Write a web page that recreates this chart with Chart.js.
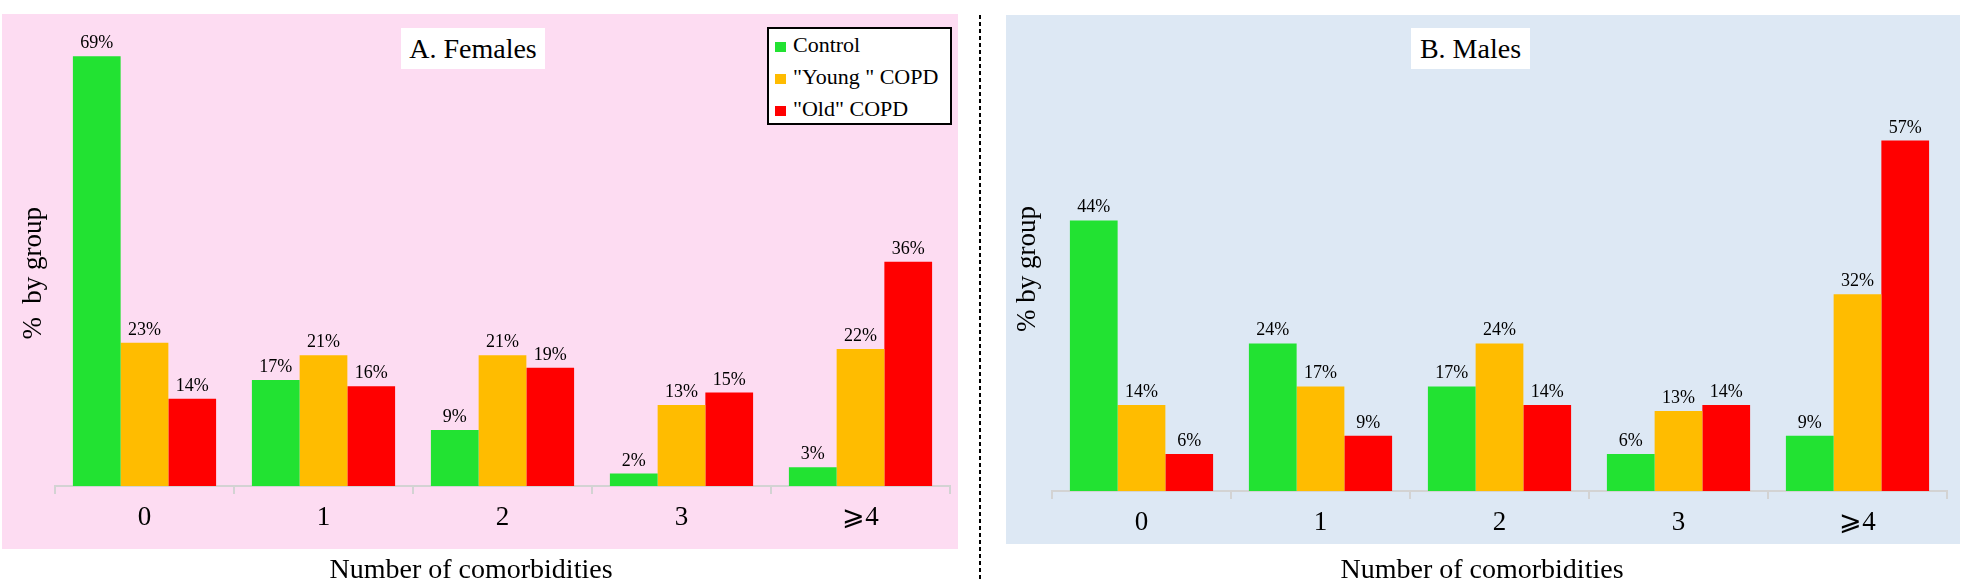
<!DOCTYPE html>
<html>
<head>
<meta charset="utf-8">
<script src="https://cdn.jsdelivr.net/npm/chart.js"></script>
<style>
  body { margin: 0; width: 1968px; height: 580px; background: #fff; position: relative; overflow: hidden; font-family: 'Liberation Serif', 'Times New Roman', serif; }
  .bg { position: absolute; }
  #bgF { left: 2px; top: 14px; width: 956px; height: 535px; background: #fddcf2; }
  #bgM { left: 1006px; top: 15px; width: 954px; height: 529px; background: #dde8f4; }
  .wrap { position: absolute; top: 0; width: 984px; height: 580px; }
  .title { position: absolute; top: 28px; height: 41px; line-height: 41px; background: #fff; font-size: 28px; text-align: center; }
  #sep { position: absolute; left: 979px; top: 15px; width: 2px; height: 565px; background: repeating-linear-gradient(to bottom, #000 0 4px, transparent 4px 7px); }
  #legend { position: absolute; left: 767px; top: 27px; width: 181px; height: 94px; border: 2px solid #000; background: #fff; font-size: 22px; }
  #legend div { position: absolute; left: 6px; height: 24px; line-height: 24px; white-space: nowrap; }
  #legend span { display: inline-block; width: 11px; height: 10px; margin-right: 7px; }
</style>
</head>
<body>
<div class="bg" id="bgF"></div>
<div class="bg" id="bgM"></div>
<div id="sep"></div>

<div class="wrap" style="left:0"><canvas id="chartF" width="984" height="580"></canvas></div>
<div class="wrap" style="left:984px"><canvas id="chartM" width="984" height="580"></canvas></div>

<div class="title" style="left:401px;width:144px">A. Females</div>
<div class="title" style="left:1411px;width:119px">B. Males</div>
<div id="legend"></div>

<script>
// categories and series (% by group)
const categories = ['0', '1', '2', '3', '⩾4'];
const seriesNames = ['Control', '"Young " COPD', '"Old" COPD'];
const seriesColors = ['#22e232', '#ffbc00', '#ff0000'];

const femaleControl = [69, 17, 9, 2, 3];
const femaleYoung = [23, 21, 21, 13, 22];
const femaleOld = [14, 16, 19, 15, 36];

const maleControl = [44, 24, 17, 6, 9];
const maleYoung = [14, 17, 24, 13, 32];
const maleOld = [6, 9, 14, 14, 57];

const serif = "'Liberation Serif', 'Times New Roman', serif";

// trailing blanks nudge the centred axis titles into place
const nudge = (text, n) => text + '\u00a0'.repeat(n);

// percentages printed above every bar
const valueLabels = {
    id: 'valueLabels',
    afterDatasetsDraw(chart) {
        const ctx = chart.ctx;
        ctx.save();
        ctx.font = '18px ' + serif;
        ctx.fillStyle = '#000';
        ctx.textAlign = 'center';
        ctx.textBaseline = 'alphabetic';
        chart.data.datasets.forEach((ds, i) => {
            chart.getDatasetMeta(i).data.forEach((bar, j) => {
                ctx.fillText(ds.data[j] + '%', bar.x, bar.y - 8);
            });
        });
        ctx.restore();
    }
};

function makeChart(id, values, o) {
    return new Chart(document.getElementById(id), {
        type: 'bar',
        data: {
            labels: categories,
            datasets: values.map((data, i) => ({
                label: seriesNames[i],
                data: data,
                backgroundColor: seriesColors[i],
                borderWidth: 0,
                categoryPercentage: 0.8,
                barPercentage: 1.0
            }))
        },
        options: {
            responsive: false,
            animation: false,
            layout: { padding: { top: 20, right: o.padRight, left: 0, bottom: 0 } },
            plugins: { legend: { display: false }, tooltip: { enabled: false } },
            scales: {
                x: {
                    afterFit: s => { s.height = 580 - o.baseline; },
                    border: { display: true, color: '#d3d3d3', width: 2 },
                    grid: { drawOnChartArea: false, drawTicks: true, tickLength: 8, color: '#d3d3d3', lineWidth: 2 },
                    ticks: { color: '#000', padding: 8, font: { family: serif, size: 27 } },
                    title: {
                        display: true,
                        text: o.xTitle,
                        color: '#000',
                        padding: 0,
                        font: { family: serif, size: 28, lineHeight: 0.7 }
                    }
                },
                y: {
                    min: 0,
                    max: o.yMax,
                    afterFit: s => { s.width = o.yWidth; },
                    border: { display: false },
                    grid: { display: false },
                    ticks: { display: false },
                    title: {
                        display: true,
                        text: o.yTitle,
                        color: '#000',
                        padding: { top: o.yTitlePad, bottom: 0 },
                        font: { family: serif, size: 27 }
                    }
                }
            }
        },
        plugins: [valueLabels]
    });
}

makeChart('chartF', [femaleControl, femaleYoung, femaleOld], {
    yMax: 74.8, yWidth: 55, padRight: 34, baseline: 486, yTitlePad: 18,
    yTitle: nudge('%  by group', 6), xTitle: nudge('Number of comorbidities', 9)
});
makeChart('chartM', [maleControl, maleYoung, maleOld], {
    yMax: 76.6, yWidth: 68, padRight: 21, baseline: 491, yTitlePad: 28,
    yTitle: nudge('% by group', 4), xTitle: nudge('Number of comorbidities', 5)
});

// legend box in the females panel
const legend = document.getElementById('legend');
seriesNames.forEach((name, i) => {
    const row = document.createElement('div');
    row.style.top = (4 + i * 32) + 'px';
    const sw = document.createElement('span');
    sw.style.background = seriesColors[i];
    row.appendChild(sw);
    row.appendChild(document.createTextNode(name));
    legend.appendChild(row);
});
</script>
</body>
</html>
